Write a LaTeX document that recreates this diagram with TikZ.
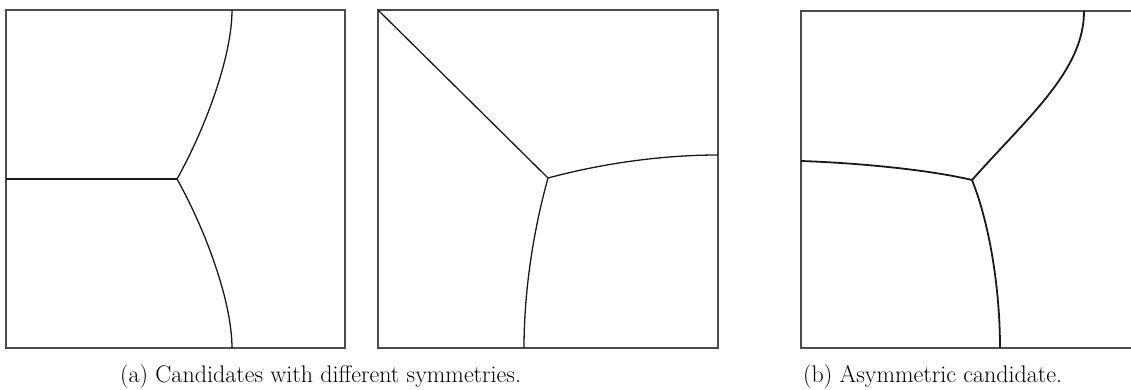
\documentclass[tikz,border=0pt]{standalone}
\usepackage{fontspec}
\begin{document}
\begin{tikzpicture}[x=1pt,y=-1pt,
  frame/.style={draw=black!70,line width=1.6pt},
  wall/.style={draw=black!90,line width=1.3pt},
  roughwall/.style={draw=black!90,line width=1.8pt},
  captext/.style={anchor=base west,inner sep=0pt,font=\fontsize{24}{28}\selectfont}]
\useasboundingbox (0,0) rectangle (1131,390);
% ---- panel 1
\draw[frame] (6,10) rectangle (345,348);
\coordinate (L1) at (6,179);
\coordinate (J1) at (177,179);
\coordinate (T1) at (232,10);
\coordinate (B1) at (232,348);
\draw[wall] (L1) -- (J1);
\draw[wall] (J1) .. controls (204,131) and (232,58) .. (T1);
\draw[wall] (J1) .. controls (204,227) and (232,300) .. (B1);
% ---- panel 2
\draw[frame] (378,10) rectangle (718,348);
\coordinate (C2) at (378,10);
\coordinate (J2) at (548,178);
\coordinate (R2) at (718,155);
\coordinate (B2) at (524,348);
\draw[wall] (C2) -- (J2);
\draw[wall] (J2) .. controls (600,164) and (660,155) .. (R2);
\draw[wall] (J2) .. controls (533,232) and (524,292) .. (B2);
% ---- panel 3
\draw[frame] (1131,11) -- (801,11) -- (801,348) -- (1131,348);
\coordinate (L3) at (801,161);
\coordinate (J3) at (972,180);
\coordinate (T3) at (1084,11);
\coordinate (B3) at (1000,348);
\draw[roughwall] (L3) .. controls (860,163) and (930,170) .. (J3);
\draw[roughwall] (J3) .. controls (1030,115) and (1084,70) .. (T3);
\draw[roughwall] (J3) .. controls (990,225) and (1000,290) .. (B3);
% ---- captions
\node[captext] (capa) at (120,382) {(a) Candidates with different symmetries.};
\node[captext] (capb) at (803,382) {(b) Asymmetric candidate.};
\end{tikzpicture}
\end{document}
